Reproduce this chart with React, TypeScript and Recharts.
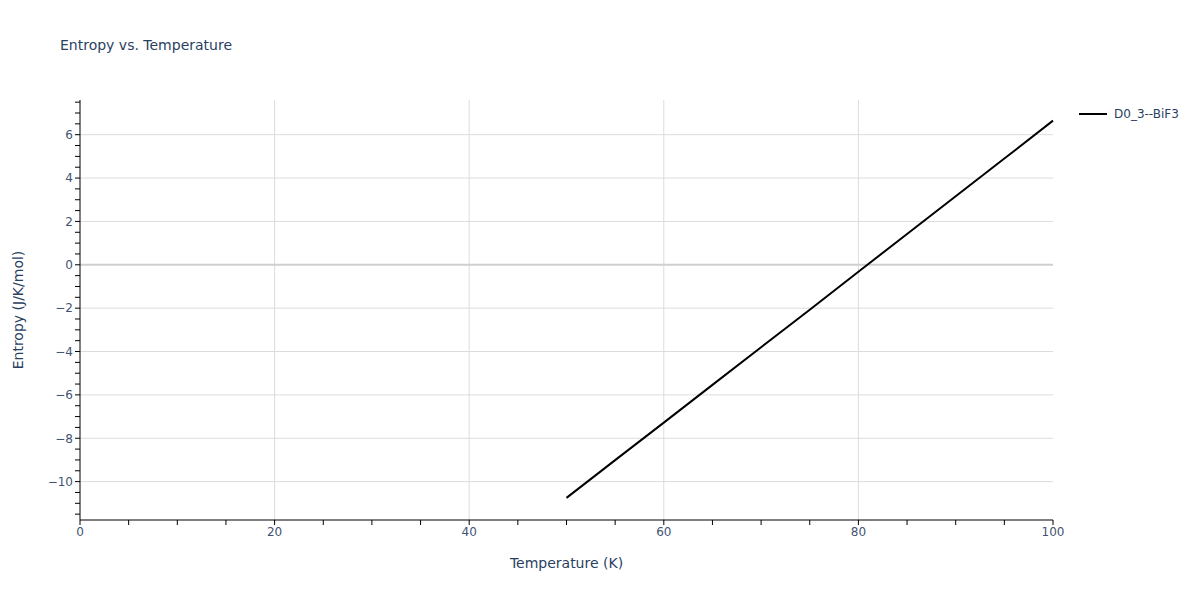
import React from "react";
import {
  LineChart,
  Line,
  XAxis,
  YAxis,
  ReferenceLine,
} from "recharts";

// values
const temperatures = [50, 55, 60, 65, 70, 75, 80, 85, 90, 95, 100];
const entropy = [-10.75, -9.01, -7.28, -5.54, -3.8, -2.07, -0.32, 1.42, 3.16, 4.9, 6.65];
const seriesName = "D0_3--BiF3";

const xGridTicks = [20, 40, 60, 80];
const xMinorTicks = [0, 5, 10, 15, 20, 25, 30, 35, 40, 45, 50, 55, 60, 65, 70, 75, 80, 85, 90, 95, 100];
const yGridTicks = [-10, -8, -6, -4, -2, 2, 4, 6];
const yMinorTicks = [
  -11.5, -11, -10.5, -10, -9.5, -9, -8.5, -8, -7.5, -7, -6.5, -6, -5.5, -5, -4.5, -4, -3.5, -3,
  -2.5, -2, -1.5, -1, -0.5, 0, 0.5, 1, 1.5, 2, 2.5, 3, 3.5, 4, 4.5, 5, 5.5, 6, 6.5, 7, 7.5,
];
const yDomain = [-11.77, 7.6];

const data = temperatures.map((t, i) => ({ t, s: entropy[i] }));

const textColor = "#2a3f5f";
const tickColor = "#3f5373";
const gridColor = "#dcdcdc";
const font = "'DejaVu Sans', Verdana, sans-serif";

const fmt = (v: number) => (v < 0 ? `\u2212${Math.abs(v)}` : `${v}`);

const YLabel = (props: any) => {
  const vb = props.viewBox || {};
  const cx = 18;
  const cy = vb.y + vb.height / 2;
  return (
    <text
      x={cx}
      y={cy}
      transform={`rotate(-90 ${cx} ${cy})`}
      textAnchor="middle"
      dominantBaseline="central"
      fontSize={14}
      fill={textColor}
      fontFamily={font}
    >
      Entropy (J/K/mol)
    </text>
  );
};

export default function App() {
  return (
    <div style={{ position: "absolute", left: 0, top: 0, width: 1200, height: 600, background: "#fff" }}>
      <div
        style={{
          position: "absolute",
          left: 60,
          top: 37,
          fontSize: 14,
          color: textColor,
          fontFamily: font,
        }}
      >
        Entropy vs. Temperature
      </div>
      <svg width={120} height={20} style={{ position: "absolute", left: 1078, top: 104 }}>
        <line x1={1} y1={10} x2={29} y2={10} stroke="#000" strokeWidth={2} />
        <text x={36} y={14} fontSize={12} fill={textColor} fontFamily={font}>
          {seriesName}
        </text>
      </svg>
      <LineChart
        width={1200}
        height={600}
        data={data}
        margin={{ top: 100, right: 147, left: 10, bottom: 20 }}
      >
        <XAxis
          dataKey="t"
          type="number"
          domain={[0, 100]}
          ticks={xMinorTicks}
          interval={0}
          height={60}
          axisLine={{ stroke: "#000", strokeWidth: 1 }}
          tickLine={{ stroke: "#000" }}
          tickSize={5}
          tick={{ fill: tickColor, fontSize: 12, fontFamily: font }}
          tickFormatter={(v: number) => (v % 20 === 0 ? fmt(v) : "")}
          label={{
            value: "Temperature (K)",
            position: "insideBottom",
            offset: 12,
            fill: textColor,
            fontSize: 14,
            fontFamily: font,
          }}
        />
        <YAxis
          type="number"
          domain={yDomain}
          ticks={yMinorTicks}
          interval={0}
          width={70}
          axisLine={{ stroke: "#000", strokeWidth: 1 }}
          tickLine={{ stroke: "#000" }}
          tickSize={5}
          tick={{ fill: tickColor, fontSize: 12, fontFamily: font }}
          tickFormatter={(v: number) => (Number.isInteger(v) && v % 2 === 0 ? fmt(v) : "")}
          label={<YLabel />}
        />
        {xGridTicks.map((v) => (
          <ReferenceLine key={`gx${v}`} x={v} stroke={gridColor} strokeWidth={1} />
        ))}
        {yGridTicks.map((v) => (
          <ReferenceLine key={`gy${v}`} y={v} stroke={gridColor} strokeWidth={1} />
        ))}
        <ReferenceLine y={0} stroke="#cfcfcf" strokeWidth={2} />
        <Line
          type="linear"
          dataKey="s"
          name={seriesName}
          stroke="#000"
          strokeWidth={2}
          dot={false}
          isAnimationActive={false}
        />
      </LineChart>
    </div>
  );
}
